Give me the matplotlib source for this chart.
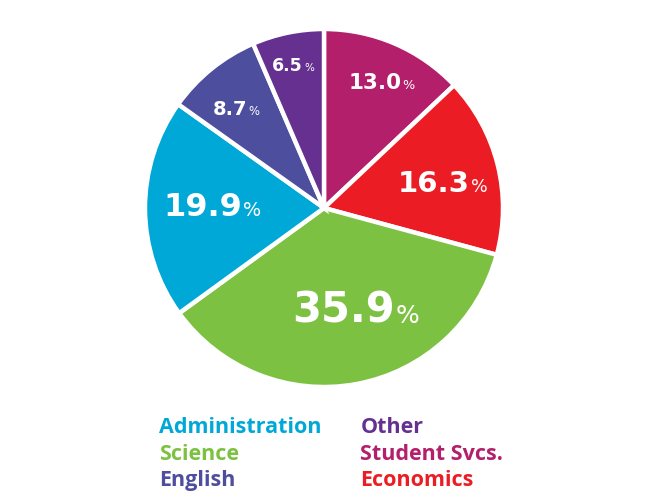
import numpy as np
import matplotlib
matplotlib.use("Agg")
import matplotlib.pyplot as plt
from matplotlib.patches import Circle
from matplotlib.offsetbox import TextArea, HPacker, AnnotationBbox

# data, clockwise from 12 o'clock
labels = ["Student Svcs.", "Economics", "Science", "Administration", "English", "Other"]
values = [13.0, 16.3, 35.9, 19.9, 8.7, 6.5]
colors = ["#b41f6b", "#ec1c24", "#7dc142", "#00a8d8", "#4d4e9d", "#65308f"]

# legend order (filled column by column)
legend_order = ["Administration", "Science", "English", "Other", "Student Svcs.", "Economics"]

# label styling per wedge: font size, radial distance, angle nudge (deg)
label_size = [15.5, 21, 30, 23, 14, 12.5]
label_dist = [0.76, 0.67, 0.61, 0.62, 0.73, 0.80]
label_turn = [-1.5, -3.3, 6.5, 0.5, 3.2, 0.8]

plt.rcParams['font.family'] = ['Open Sans', 'DejaVu Sans']

W, H = 645, 500
fig = plt.figure(figsize=(W / 100, H / 100), dpi=100, facecolor="white")

# pie
R = 180
cx, cy = 324, 208
ax = fig.add_axes([(cx - R) / W, 1 - (cy + R) / H, 2 * R / W, 2 * R / H])
ax.add_patch(Circle((0, 0), 183 / R, color="white", zorder=0))
wedges, _ = ax.pie(values, colors=colors, startangle=90, counterclock=False,
                   radius=179 / R,
                   wedgeprops=dict(edgecolor="white", linewidth=3.2))
ax.set_xlim(-1, 1)
ax.set_ylim(-1, 1)
ax.set_aspect("equal")
ax.axis("off")

for w, v, fs, d, t in zip(wedges, values, label_size, label_dist, label_turn):
    mid = np.deg2rad((w.theta1 + w.theta2) / 2 + t)
    num = TextArea(f"{v:.1f}", textprops=dict(color="white", fontsize=fs, fontweight="bold",
                                             family="DejaVu Sans"))
    pct = TextArea("%", textprops=dict(color="white", fontsize=fs * 0.6,
                                       family="DejaVu Sans"))
    box = HPacker(children=[num, pct], align="baseline", pad=0, sep=1)
    ab = AnnotationBbox(box, (d * np.cos(mid), d * np.sin(mid)), frameon=False,
                        box_alignment=(0.5, 0.45))
    ax.add_artist(ab)

# legend as coloured text
handles = [wedges[labels.index(n)] for n in legend_order]
text_colors = [colors[labels.index(n)] for n in legend_order]
leg = fig.legend(handles, legend_order, loc="upper left",
                 bbox_to_anchor=(148 / W, 1 - 406 / H),
                 ncol=2, frameon=False, handlelength=0, handletextpad=0,
                 columnspacing=1.82, labelspacing=0.27, borderpad=0,
                 prop=dict(size=15.5, weight="bold"), labelcolor=text_colors)
for h in leg.legend_handles:
    h.set_visible(False)

fig.savefig("out.png", dpi=100)
